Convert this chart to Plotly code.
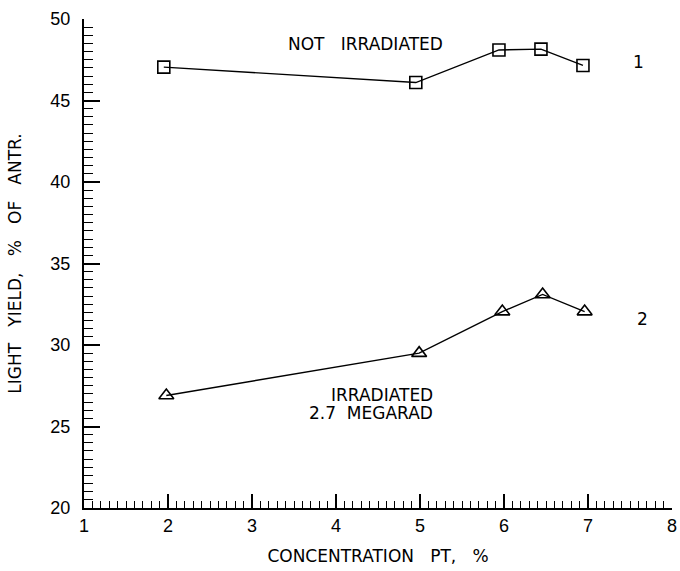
import plotly.graph_objects as go

conc_1 = [1.95, 4.95, 5.94, 6.44, 6.94]
yield_not_irradiated = [47.05, 46.1, 48.1, 48.15, 47.15]
conc_2 = [1.98, 4.99, 5.98, 6.46, 6.96]
yield_irradiated = [26.9, 29.5, 32.05, 33.1, 32.05]

x_ticks = [1, 2, 3, 4, 5, 6, 7, 8]
y_ticks = [20, 25, 30, 35, 40, 45, 50]

FONT = "Liberation Sans"
TFONT = "DejaVu Sans"

fig = go.Figure()
fig.add_trace(go.Scatter(
    x=conc_1, y=yield_not_irradiated, mode="lines+markers",
    line=dict(color="black", width=1.4),
    marker=dict(symbol="square-open", size=12, color="black", line=dict(width=1.6)),
    showlegend=False,
))
fig.add_trace(go.Scatter(
    x=conc_2, y=yield_irradiated, mode="lines+markers",
    line=dict(color="black", width=1.4),
    marker=dict(symbol="triangle-up-open", size=13, color="black", line=dict(width=1.6)),
    showlegend=False,
))

annots = [
    dict(x=4.35, y=48.45, text="NOT   IRRADIATED", xanchor="center"),
    dict(x=7.6, y=47.35, text="1", xanchor="center"),
    dict(x=7.65, y=31.6, text="2", xanchor="center"),
    dict(x=5.18, y=26.95, text="IRRADIATED", xanchor="right"),
    dict(x=5.18, y=25.85, text="2.7  MEGARAD", xanchor="right"),
]
for a in annots:
    fig.add_annotation(x=a["x"], y=a["y"], text=a["text"], xanchor=a["xanchor"],
                       yanchor="middle", showarrow=False,
                       font=dict(family=TFONT, size=17, color="black"))

fig.update_xaxes(
    range=[1, 8], tickvals=x_ticks, ticktext=[str(v) for v in x_ticks],
    showline=True, linecolor="black", linewidth=2, mirror=False,
    ticks="inside", ticklen=14, tickwidth=1.5, tickcolor="black",
    minor=dict(ticks="inside", dtick=0.1, ticklen=7, tickwidth=1, tickcolor="black"),
    showgrid=False, zeroline=False, automargin=False,
    tickfont=dict(family=FONT, size=18, color="black"),
    title=dict(text="CONCENTRATION   PT,   %", font=dict(family=TFONT, size=17, color="black"), standoff=16),
)
fig.update_yaxes(
    range=[20, 50], tickvals=y_ticks, ticktext=[str(v) for v in y_ticks],
    showline=True, linecolor="black", linewidth=2, mirror=False,
    ticks="inside", ticklen=16, tickwidth=1.5, tickcolor="black",
    minor=dict(ticks="inside", dtick=0.5, ticklen=9, tickwidth=1.2, tickcolor="black"),
    showgrid=False, zeroline=False, automargin=False,
    ticklabelstandoff=8,
    tickfont=dict(family=FONT, size=18, color="black"),
    title=dict(text="LIGHT   YIELD,   %   OF   ANTR.", font=dict(family=TFONT, size=17, color="black"), standoff=24),
)

fig.update_layout(
    width=680, height=571,
    margin=dict(l=84, r=8, t=19, b=63),
    plot_bgcolor="white", paper_bgcolor="white",
)

fig.write_html("out.html", config={"displayModeBar": False},
               post_script="document.body.style.margin='0';")
